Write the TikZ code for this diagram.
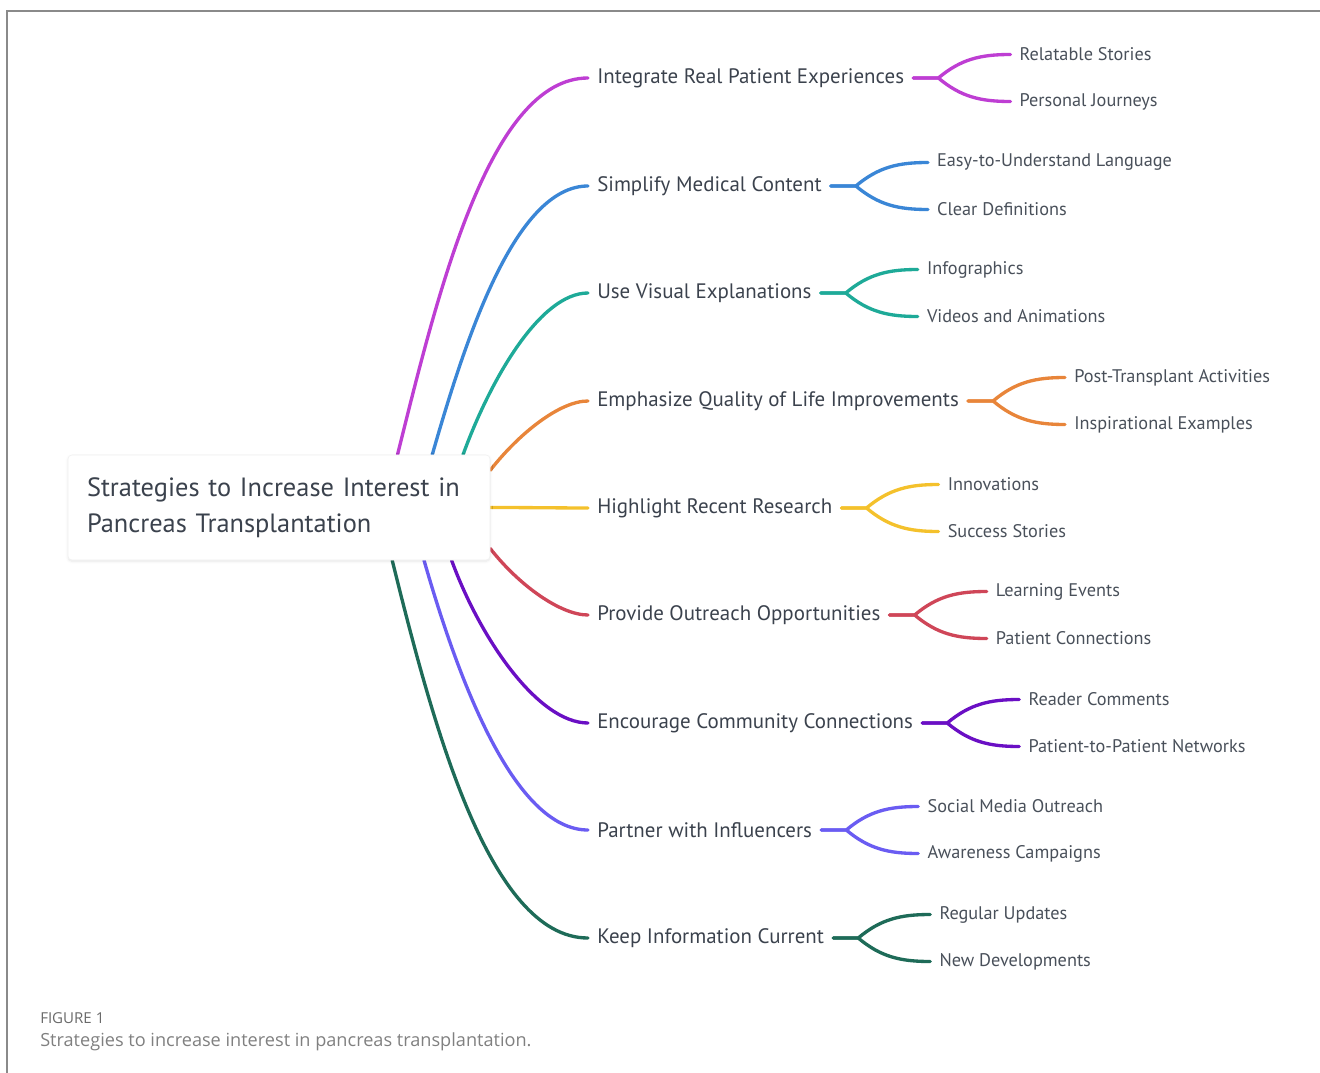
\documentclass[tikz,border=0pt]{standalone}
\usepackage{fontspec}
\setmainfont{PT Sans}
\newfontfamily\capfont{Open Sans}
\usetikzlibrary{positioning,backgrounds,shadows.blur}

\definecolor{ink}{HTML}{3B424D}
\definecolor{leafink}{HTML}{49505A}
\definecolor{framegray}{HTML}{8A8A8A}
\definecolor{capgray}{HTML}{6A6A6A}
\definecolor{bpurple}{HTML}{BE3ED3}
\definecolor{bblue}{HTML}{3A86D6}
\definecolor{bteal}{HTML}{1EAA98}
\definecolor{borange}{HTML}{E8853A}
\definecolor{byellow}{HTML}{F4C12C}
\definecolor{bred}{HTML}{CF4658}
\definecolor{bviolet}{HTML}{6A0FC4}
\definecolor{bperi}{HTML}{6A5CF2}
\definecolor{bgreen}{HTML}{1E6B58}

\begin{document}
\begin{tikzpicture}
[
	x=0.75pt, y=-0.75pt,
	rootbox/.style={draw=black!6, fill=white, rounded corners=3pt,
		blur shadow={shadow xshift=0pt, shadow yshift=-1pt, shadow blur steps=6, shadow opacity=10},
		minimum width=316.5pt, minimum height=78.75pt, text width=288pt, inner xsep=14.25pt,
		align=left, text=ink, font=\fontsize{19.8}{27}\selectfont},
	topic/.style={anchor=west, inner xsep=6.75pt, inner ysep=2pt, text=ink, font=\fontsize{15.7}{18}\selectfont},
	leaf/.style={anchor=west, inner xsep=6.75pt, inner ysep=2pt, text=leafink, font=\fontsize{13.7}{16}\selectfont},
	branch/.style={line width=2.5pt, line cap=round}
]

	\useasboundingbox (0,0) rectangle (1320,1073);

	% frame
	\draw[framegray, line width=0.8pt] (7,1073) -- (7,11) -- (1320,11);

	% root
	\node[rootbox] (root) at (279,507.5) {Strategies to Increase Interest in\\Pancreas Transplantation};

	% topics and their two leaves
	\foreach \i/\y/\col/\ang/\out/\txt/\la/\lb in {
		1/78/bpurple/24.4/76/Integrate Real Patient Experiences/Relatable Stories/Personal Journeys,
		2/186/bblue/19.8/74/Simplify Medical Content/Easy-to-Understand Language/Clear Definitions,
		3/293/bteal/16.2/70/Use Visual Explanations/Infographics/Videos and Animations,
		4/401/borange/10.1/52/Emphasize Quality of Life Improvements/Post-Transplant Activities/Inspirational Examples,
		5/508/byellow/0/0/Highlight Recent Research/Innovations/Success Stories,
		6/615/bred/349.9/-52/Provide Outreach Opportunities/Learning Events/Patient Connections,
		7/723/bviolet/343.8/-70/Encourage Community Connections/Reader Comments/Patient-to-Patient Networks,
		8/830/bperi/340.2/-74/Partner with Influencers/Social Media Outreach/Awareness Campaigns,
		9/938/bgreen/335.6/-76/Keep Information Current/Regular Updates/New Developments}
	{
		\node[topic] (c\i) at (588,\y) {\txt};
		\node[leaf] (s\i-1) at ([shift={(97,-23.5)}]c\i.east) {\la};
		\node[leaf] (s\i-2) at ([shift={(97,23.5)}]c\i.east) {\lb};

		\begin{scope}[on background layer]
			\draw[branch, \col] (root.\ang) to[out=\out, in=180, in looseness=0.6] (c\i.west);
		\end{scope}
		\draw[branch, \col] (c\i.east) -- ++(25,0) to[out=40, in=180] (s\i-1.west);
		\draw[branch, \col] (c\i.east) -- ++(25,0) to[out=-40, in=180] (s\i-2.west);
	}

	% caption
	\node[anchor=west, inner sep=0pt, text=capgray, font=\capfont\fontsize{11.3}{13}\selectfont] (fig) at (40,1018) {FIGURE 1};
	\node[anchor=west, inner sep=0pt, text=capgray!85, font=\capfont\fontsize{13.6}{16}\selectfont] (cap) at (40,1042) {Strategies to increase interest in pancreas transplantation.};

\end{tikzpicture}
\end{document}
